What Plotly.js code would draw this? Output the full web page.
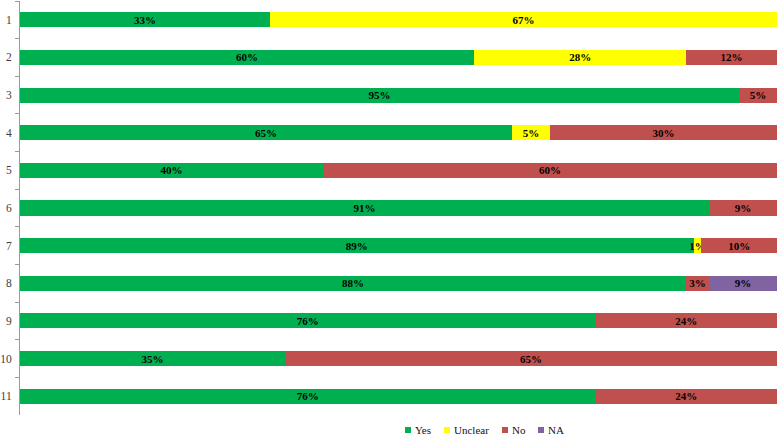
<!DOCTYPE html>
<html>
<head>
<meta charset="utf-8">
<script src="https://cdn.plot.ly/plotly-3.0.1.min.js"></script>
<style>html,body{margin:0;padding:0;background:#fff}#chart{width:778px;height:435px}</style>
</head>
<body>
<div id="chart"></div>
<script>
var categories = ["1","2","3","4","5","6","7","8","9","10","11"];
var yesVals     = [33, 60, 95, 65, 40, 91, 89, 88, 76, 35, 76];
var unclearVals = [67, 28, null, 5, null, null, 1, null, null, null, null];
var noVals      = [null, 12, 5, 30, 60, 9, 10, 3, 24, 65, 24];
var naVals      = [null, null, null, null, null, null, null, 9, null, null, null];
var seriesNames = ["Yes", "Unclear", "No", "NA"];
var seriesColors = ["#00b050", "#ffff00", "#c0504d", "#8064a2"];
var seriesVals = [yesVals, unclearVals, noVals, naVals];

var FONT = "Liberation Serif, Times New Roman, serif";

var traces = seriesVals.map(function(vals, i){
  return {
    type: "bar",
    orientation: "h",
    name: seriesNames[i],
    y: categories,
    x: vals,
    marker: {color: seriesColors[i], line: {width: 0}},
    text: vals.map(function(v){ return v == null ? "" : v + "%"; }),
    texttemplate: "%{text}",
    textposition: "inside",
    insidetextanchor: "middle",
    textangle: 0,
    constraintext: "none",
    cliponaxis: false,
    textfont: {family: FONT, size: 11, color: "#000", weight: "bold"},
    hoverinfo: "none",
    showlegend: false
  };
});

// Plot area geometry (pixels) used to place the legend
var W = 778, H = 435, ML = 20, MR = 1, MT = 1, MB = 20;
var PW = W - ML - MR, PH = H - MT - MB;
function px2x(px){ return (px - ML) / PW; }
function py2y(py){ return (H - MB - py) / PH; }

// Legend entries: square left edge and text left edge (pixels)
var legendSquareX = [405, 444, 502, 538];
var legendTextX   = [413, 452, 510, 546];
var shapes = [], annotations = [];
seriesNames.forEach(function(n, i){
  shapes.push({
    type: "rect", xref: "paper", yref: "paper",
    x0: px2x(legendSquareX[i]), x1: px2x(legendSquareX[i] + 6),
    y0: py2y(433), y1: py2y(427),
    fillcolor: seriesColors[i], line: {width: 0}
  });
  annotations.push({
    xref: "paper", yref: "paper",
    x: px2x(legendTextX[i]), y: py2y(430),
    xanchor: "left", yanchor: "middle",
    text: n, showarrow: false,
    font: {family: FONT, size: 11, color: "#111"}
  });
});

var layout = {
  width: W, height: H,
  margin: {l: ML, r: MR, t: MT, b: MB, pad: 0},
  barmode: "stack",
  bargap: 0.6,
  paper_bgcolor: "#fff",
  plot_bgcolor: "#fff",
  showlegend: false,
  shapes: shapes,
  annotations: annotations,
  xaxis: {
    range: [0, 100],
    visible: false,
    fixedrange: true
  },
  yaxis: {
    type: "category",
    autorange: "reversed",
    showline: true,
    linecolor: "#9a9a9a",
    linewidth: 1,
    ticks: "outside",
    ticklen: 4,
    tickcolor: "#9a9a9a",
    tickson: "boundaries",
    showgrid: false,
    zeroline: false,
    ticklabelstandoff: 5,
    tickfont: {family: FONT, size: 11.5, color: "#404040"}
  },
  font: {family: FONT}
};

Plotly.newPlot("chart", traces, layout, {displayModeBar: false, staticPlot: true});
</script>
</body>
</html>
